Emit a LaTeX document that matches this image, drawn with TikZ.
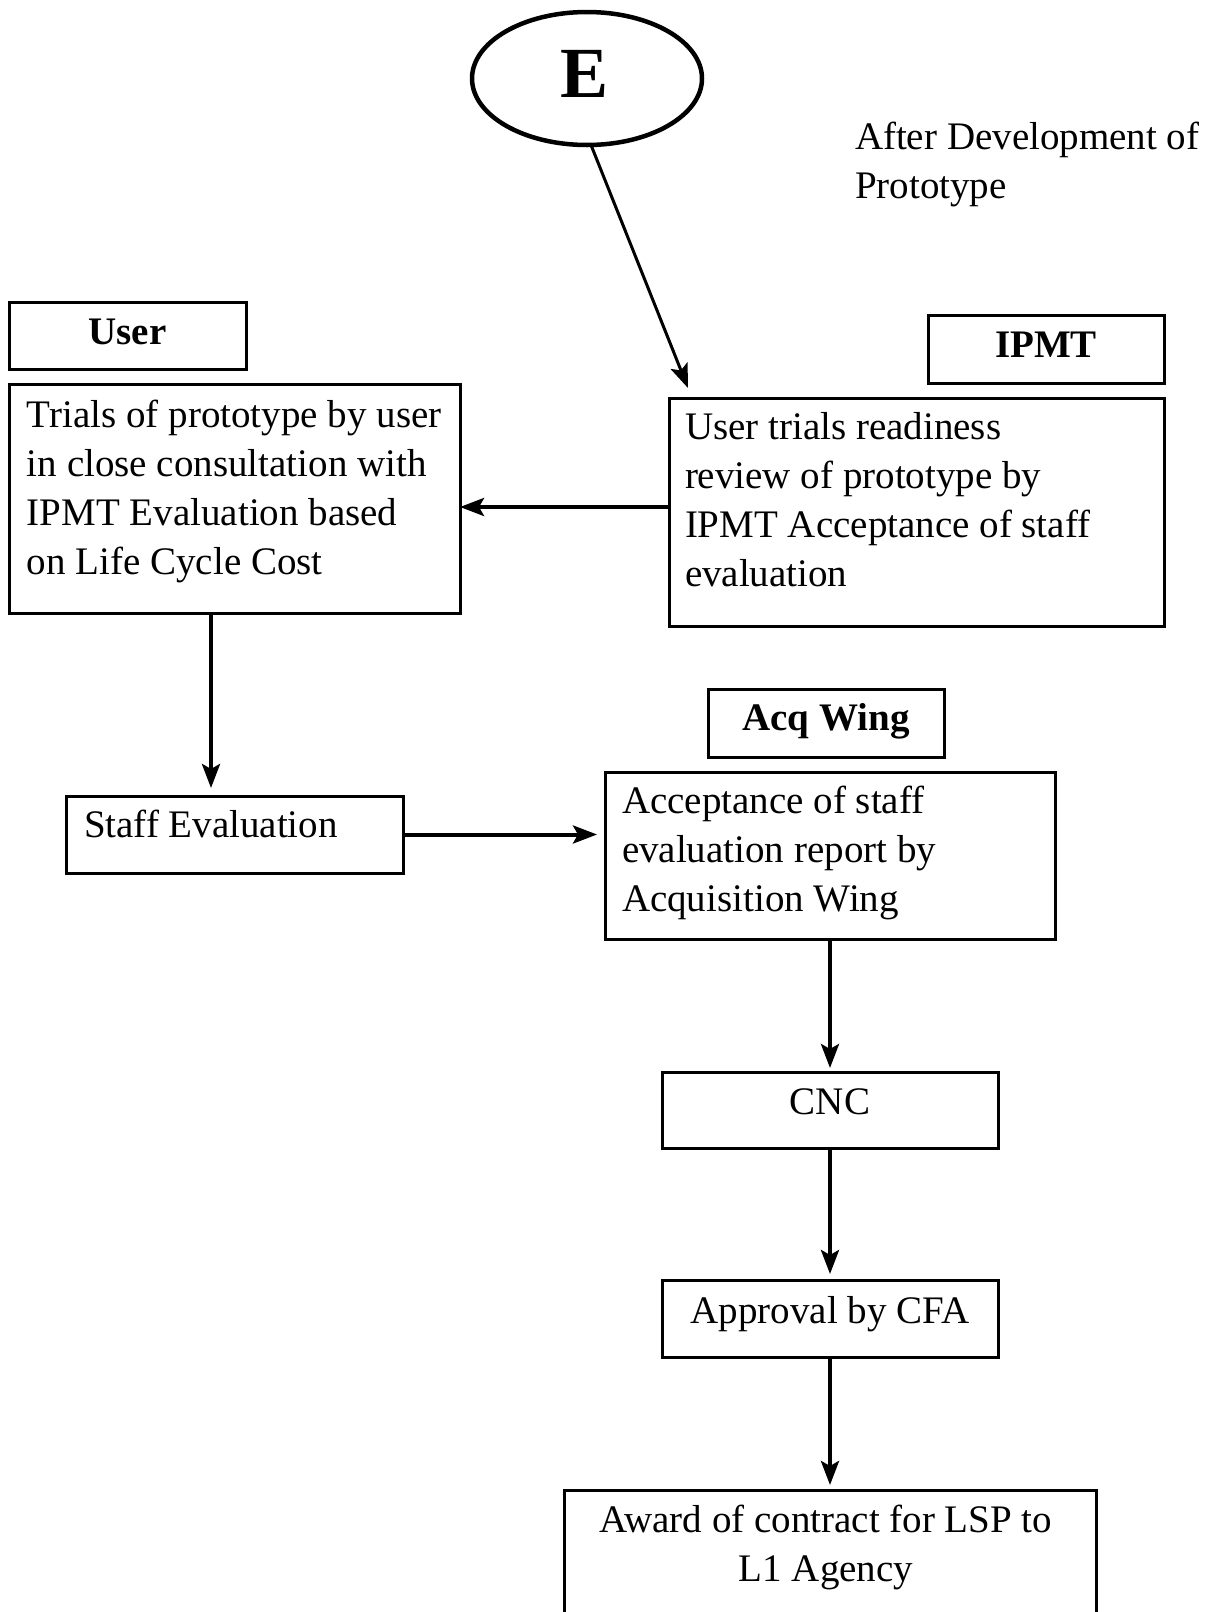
\documentclass[tikz,border=0pt]{standalone}
\usepackage{fontspec}
\setmainfont{Liberation Serif}
\usetikzlibrary{arrows.meta,shapes.geometric,calc}
\newcommand\Lft[1]{\vtop{\halign{##\hfil\cr#1\crcr}}}
\newcommand\Ctr[1]{\vtop{\halign{\hfil##\hfil\cr#1\crcr}}}
\begin{document}
\begin{tikzpicture}[x=1pt,y=-1pt,
  box/.style={draw, line width=3pt, rectangle, inner sep=0pt, outer sep=0pt},
  txt/.style={inner sep=0pt, outer sep=0pt, font=\fontsize{39}{49}\selectfont},
  hd/.style={inner sep=0pt, outer sep=0pt, font=\fontsize{39}{49}\selectfont\bfseries},
  arr/.style={line width=4pt, -{Stealth[length=24pt,width=18pt,inset=5pt]}}]
\useasboundingbox (0,0) rectangle (1219,1612);
\clip (0,0) rectangle (1219,1612);

% start ellipse
\node[draw, ellipse, line width=4.5pt, minimum width=230pt, minimum height=133pt, inner sep=0pt, outer sep=0pt] (E) at (587,78.5) {};
\node[inner sep=0pt, font=\fontsize{72}{80}\selectfont\bfseries, anchor=base] (Elabel) at (585,97) {E};

\node[txt, anchor=base west] (after) at (855,149) {\Lft{After Development of\cr Prototype}};

% headers
\node[box, minimum width=237pt, minimum height=67pt] (userH) at (127.5,335.5) {};
\node[hd, anchor=base] (userT) at (127.5,344) {User};
\node[box, minimum width=236pt, minimum height=68pt] (ipmtH) at (1046,349) {};
\node[hd, anchor=base] (ipmtT) at (1046,357) {IPMT};
\node[box, minimum width=236pt, minimum height=68pt] (acqH) at (826,723) {};
\node[hd, anchor=base] (acqT) at (826,730) {Acq Wing};

% process boxes
\node[box, minimum width=451pt, minimum height=229pt] (trials) at (234.5,498.5) {};
\node[txt, anchor=base west] (trialsT) at (27,427) {\Lft{Trials of prototype by user\cr in close consultation with\cr IPMT Evaluation based\cr on Life Cycle Cost}};

\node[box, minimum width=495pt, minimum height=228pt] (ready) at (916.5,512) {};
\node[txt, anchor=base west] (readyT) at (685,439) {\Lft{User trials readiness\cr review of prototype by\cr IPMT Acceptance of staff\cr evaluation}};

\node[box, minimum width=337pt, minimum height=77pt] (staff) at (234.5,834.5) {};
\node[txt, anchor=base west] (staffT) at (84,837) {Staff Evaluation};

\node[box, minimum width=450pt, minimum height=167pt] (accept) at (830,855.5) {};
\node[txt, anchor=base west] (acceptT) at (622,813) {\Lft{Acceptance of staff\cr evaluation report by\cr Acquisition Wing}};

\node[box, minimum width=336pt, minimum height=76pt] (cnc) at (830,1110) {};
\node[txt, anchor=base] (cncT) at (830,1114) {CNC};

\node[box, minimum width=336pt, minimum height=77pt] (cfa) at (830,1318.5) {};
\node[txt, anchor=base] (cfaT) at (830,1323) {Approval by CFA};

\node[box, minimum width=532pt, minimum height=210pt] (award) at (830,1595) {};
\node[txt, anchor=base] (awardT) at (826,1532) {\Ctr{Award of contract for LSP to\cr L1 Agency}};

% connectors
\coordinate (eTip) at (688,388);
\draw[arr, line width=3pt] ([xshift=4pt]E.south) -- (eTip);
\draw[arr] ([yshift=5pt]ready.west) -- ([yshift=5pt]ready.west -| trials.east);
\draw[arr, shorten >=8pt] ([xshift=-23.5pt]trials.south) -- ([xshift=-23.5pt]staff.north);
\draw[arr, shorten >=8pt] (staff.east) -- (staff.east -| accept.west);
\draw[arr, shorten >=4pt] (accept.south) -- (cnc.north);
\draw[arr, shorten >=6pt] (cnc.south) -- (cfa.north);
\draw[arr, shorten >=5pt] (cfa.south) -- (award.north);
\end{tikzpicture}
\end{document}
